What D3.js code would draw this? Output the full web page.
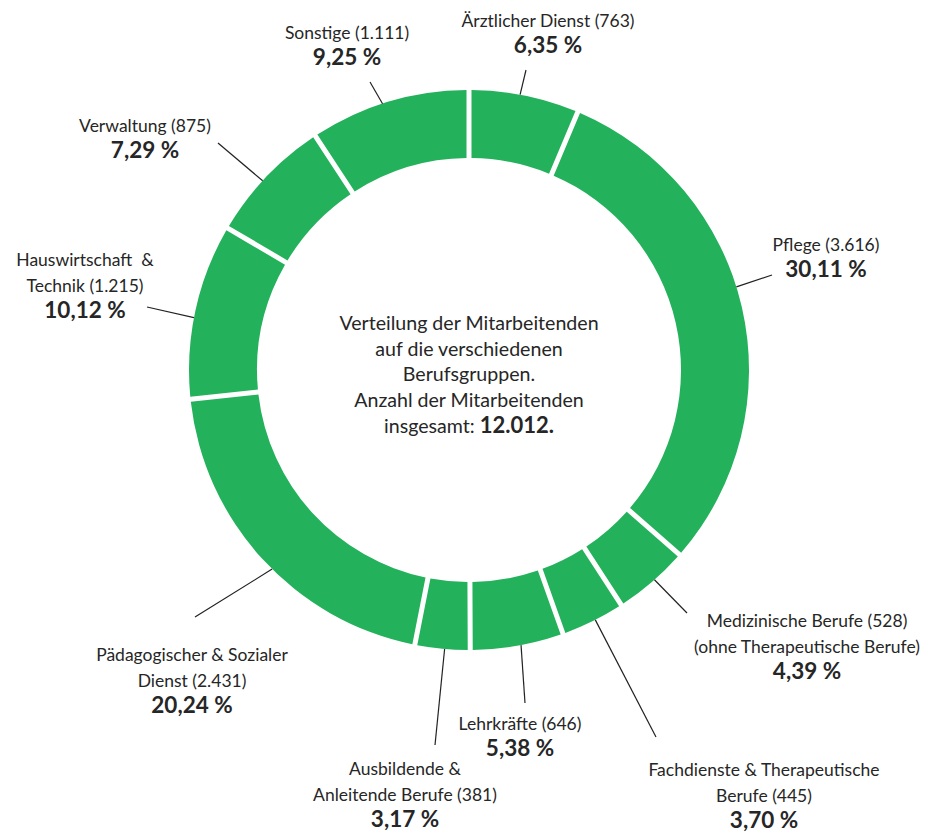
<!DOCTYPE html>
<html>
<head>
<meta charset="utf-8">
<script src="https://cdn.jsdelivr.net/npm/d3@7"></script>
<style>
  body { margin: 0; background: #fff; }
  text { font-family: Lato, "Open Sans", sans-serif; fill: #262626; white-space: pre; }
</style>
</head>
<body>
<div id="chart"></div>
<script>
(async () => {

    // data, clockwise from the top
    const categories = [
        ["Ärztlicher Dienst"],
        ["Pflege"],
        ["Medizinische Berufe", "(ohne Therapeutische Berufe)"],
        ["Fachdienste & Therapeutische", "Berufe"],
        ["Lehrkräfte"],
        ["Ausbildende &", "Anleitende Berufe"],
        ["Pädagogischer & Sozialer", "Dienst"],
        ["Hauswirtschaft  &", "Technik"],
        ["Verwaltung"],
        ["Sonstige"]
    ];
    const counts = [763, 3616, 528, 445, 646, 381, 2431, 1215, 875, 1111];
    const percents = [6.35, 30.11, 4.39, 3.70, 5.38, 3.17, 20.24, 10.12, 7.29, 9.25];
    const total = 12012;

    // layout of the labels: centre x, baseline of first line, line to label, line carrying the count
    const labelLayout = [
        { x: 548, y: 27, end: [526, 70], countLine: 0 },
        { x: 826, y: 251, end: [772, 275], countLine: 0 },
        { x: 807, y: 627, end: [687, 613], countLine: 0 },
        { x: 764, y: 776, end: [656, 737], countLine: 1 },
        { x: 520, y: 730, end: [525, 703], countLine: 0 },
        { x: 405, y: 775, end: [435, 745], countLine: 1 },
        { x: 192, y: 661, end: [195, 617], countLine: 1 },
        { x: 85, y: 266, end: [147, 307], countLine: 1 },
        { x: 145, y: 132, end: [218, 143], countLine: 0 },
        { x: 347, y: 39, end: [370, 82], countLine: 0 }
    ];

    const width = 946;
    const height = 832;
    const cx = 469, cy = 370;
    const outerR = 280, innerR = 212;
    const green = "#23b25b";

    const de = d3.formatLocale({ decimal: ",", thousands: ".", grouping: [3], currency: ["", " €"] });
    const fmtCount = de.format(",d");
    const fmtPct = de.format(".2f");

    const svg = d3.select("#chart")
        .append("svg")
            .attr("width", width)
            .attr("height", height);

    const pie = d3.pie()
        .sort(null)
        .value(d => d);

    const arcs = pie(percents);

    const arc = d3.arc()
        .innerRadius(innerR)
        .outerRadius(outerR)
        .padAngle(5 / outerR)
        .padRadius(outerR);

    const g = svg.append("g")
        .attr("transform", `translate(${cx}, ${cy})`);

    g.selectAll("path")
        .data(arcs)
        .enter()
        .append("path")
            .attr("d", arc)
            .attr("fill", green);

    // leader lines
    svg.selectAll(".leader")
        .data(arcs)
        .enter()
        .append("line")
            .attr("class", "leader")
            .attr("x1", d => cx + outerR * Math.sin(d.startAngle + 0.46 * (d.endAngle - d.startAngle)))
            .attr("y1", d => cy - outerR * Math.cos(d.startAngle + 0.46 * (d.endAngle - d.startAngle)))
            .attr("x2", (d, i) => labelLayout[i].end[0])
            .attr("y2", (d, i) => labelLayout[i].end[1])
            .attr("stroke", "#222")
            .attr("stroke-width", 1.2);

    // labels
    categories.forEach(function(lines, i) {
        const lay = labelLayout[i];
        const t = svg.append("text")
            .attr("text-anchor", "middle")
            .attr("x", lay.x)
            .attr("y", lay.y);
        lines.forEach(function(line, j) {
            let s = line;
            if (j === lay.countLine) s += " (" + fmtCount(counts[i]) + ")";
            t.append("tspan")
                .attr("x", lay.x)
                .attr("dy", j === 0 ? 0 : 26)
                .style("font-size", "17.5px")
                .text(s);
        });
        t.append("tspan")
            .attr("x", lay.x)
            .attr("dy", 26)
            .style("font-size", "22.5px")
            .style("font-weight", "bold")
            .text(fmtPct(percents[i]) + " %");
    });

    // centre text
    const centerLines = [
        "Verteilung der Mitarbeitenden",
        "auf die verschiedenen",
        "Berufsgruppen.",
        "Anzahl der Mitarbeitenden"
    ];
    const ct = svg.append("text")
        .attr("text-anchor", "middle")
        .attr("x", cx)
        .attr("y", 330)
        .style("font-size", "19.6px");
    centerLines.forEach(function(line, j) {
        ct.append("tspan")
            .attr("x", cx)
            .attr("dy", j === 0 ? 0 : 25.7)
            .text(line);
    });
    const last = ct.append("tspan")
        .attr("x", cx)
        .attr("dy", 25.7);
    last.append("tspan").text("insgesamt: ");
    last.append("tspan")
        .style("font-weight", "bold")
        .style("font-size", "22px")
        .text(fmtCount(total) + ".");

})();
</script>
</body>
</html>
